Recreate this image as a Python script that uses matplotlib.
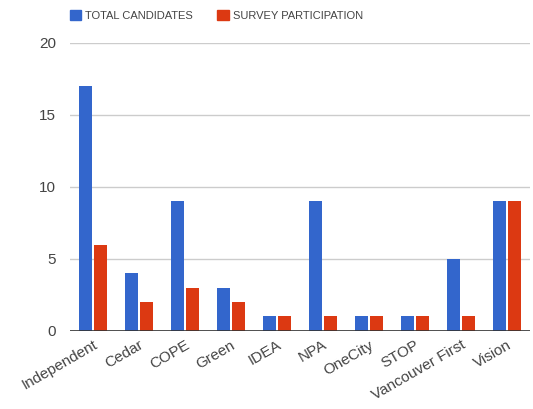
import numpy as np
import matplotlib.pyplot as plt
from matplotlib.patches import Patch

parties = ['Independent', 'Cedar', 'COPE', 'Green', 'IDEA', 'NPA', 'OneCity',
           'STOP', 'Vancouver First', 'Vision']
total_candidates = [17, 4, 9, 3, 1, 9, 1, 1, 5, 9]
survey_participation = [6, 2, 3, 2, 1, 1, 1, 1, 1, 9]

blue = '#3366cc'
red = '#dc3912'

plt.rcParams['font.family'] = ['Liberation Sans', 'DejaVu Sans']

fig = plt.figure(figsize=(5.33, 4.09), dpi=100)
ax = fig.add_axes([0.131, 0.191, 0.863, 0.704])

x = np.arange(len(parties))
w = 0.28
ax.bar(x - w / 2 - 0.02, total_candidates, w, color=blue, zorder=3)
ax.bar(x + w / 2 + 0.02, survey_participation, w, color=red, zorder=3)

ax.set_xlim(-0.5, len(parties) - 0.5)
ax.set_ylim(0, 20)
ax.set_yticks([0, 5, 10, 15, 20])
ax.yaxis.grid(True, color='#cccccc', linewidth=1, zorder=0)
ax.axhline(0, color='#333333', linewidth=1.2, zorder=4)

for s in ax.spines.values():
    s.set_visible(False)
ax.tick_params(axis='both', length=0, colors='#444444', labelsize=11)
ax.tick_params(axis='y', pad=10)
ax.tick_params(axis='x', pad=5)
ax.set_xticks(x)
ax.set_xticklabels(parties, rotation=30, ha='right', rotation_mode='anchor')

handles = [Patch(color=blue, label='TOTAL CANDIDATES'),
           Patch(color=red, label='SURVEY PARTICIPATION')]
leg = fig.legend(handles=handles, loc='upper left', bbox_to_anchor=(0.112, 1.0),
                 ncol=2, frameon=False, fontsize=8, handlelength=1.0,
                 handleheight=1.0, handletextpad=0.4, columnspacing=2.2)
for t in leg.get_texts():
    t.set_color('#444444')

fig.savefig('out.png', dpi=100)
